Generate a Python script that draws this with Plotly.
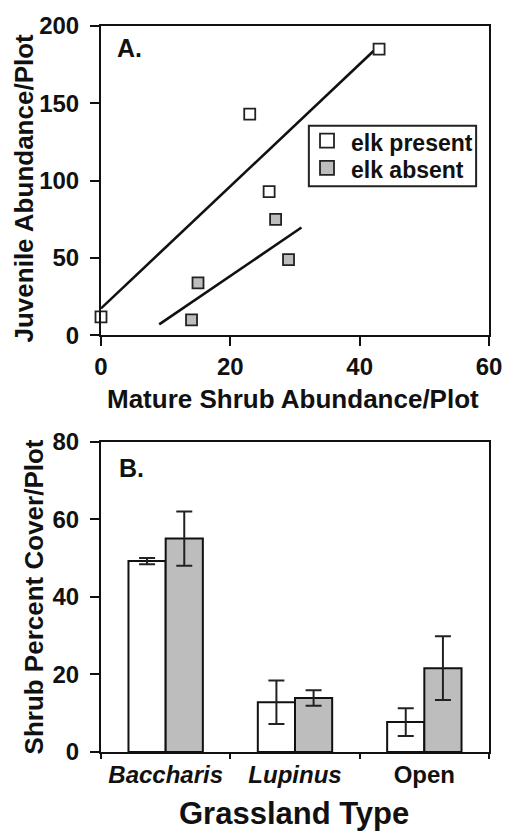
import numpy as np
import plotly.graph_objects as go

# ---- Panel A: juvenile vs mature shrub abundance per plot ----
present_mature = [0, 23, 26, 43]
present_juvenile = [12, 143, 93, 185]
absent_mature = [14, 15, 27, 29]
absent_juvenile = [10, 34, 75, 49]
# x-extent of each least-squares line
present_fit_x = [0, 43]
absent_fit_x = [9, 31]

# ---- Panel B: shrub percent cover by grassland type ----
grassland = ["Baccharis", "Lupinus", "Open"]
grassland_labels = ["<i>Baccharis</i>", "<i>Lupinus</i>", "Open"]
cover_present = [49.2, 12.8, 7.7]
cover_present_se = [0.8, 5.6, 3.6]
cover_absent = [55.0, 13.9, 21.6]
cover_absent_se = [7.0, 2.0, 8.2]

legend_names = ["elk present", "elk absent"]

FONT = "Liberation Sans, Arial, Helvetica, sans-serif"
GRAY = "#bdbdbd"
INK = "#111111"
FILLS = ["white", GRAY]


def fit_line(x, y, xs):
    slope, intercept = np.polyfit(x, y, 1)
    xs = np.asarray(xs, dtype=float)
    return xs, slope * xs + intercept


def bold(size):
    return dict(family=FONT, size=size, color=INK, weight="bold")


fig = go.Figure()

# regression lines
for xd, yd, xr in [(present_mature, present_juvenile, present_fit_x),
                   (absent_mature, absent_juvenile, absent_fit_x)]:
    lx, ly = fit_line(xd, yd, xr)
    fig.add_trace(go.Scatter(x=lx, y=ly, mode="lines", showlegend=False,
                             line=dict(color=INK, width=2.6),
                             xaxis="x", yaxis="y", hoverinfo="skip"))

marker_line = dict(color="#222222", width=1.8)
for xs, ys, name, fill in [(present_mature, present_juvenile, legend_names[0], FILLS[0]),
                           (absent_mature, absent_juvenile, legend_names[1], FILLS[1])]:
    fig.add_trace(go.Scatter(x=xs, y=ys, mode="markers", name=name,
                             showlegend=False, cliponaxis=False,
                             marker=dict(symbol="square", size=11, color=fill,
                                         line=marker_line),
                             xaxis="x", yaxis="y"))

err_style = dict(type="data", visible=True, color="#222222", thickness=2, width=8)
for vals, se, fill in [(cover_present, cover_present_se, FILLS[0]),
                       (cover_absent, cover_absent_se, FILLS[1])]:
    fig.add_trace(go.Bar(x=grassland, y=vals, showlegend=False,
                         marker=dict(color=fill, line=dict(color=INK, width=2)),
                         error_y=dict(array=se, **err_style),
                         xaxis="x2", yaxis="y2"))

axis_common = dict(showline=True, mirror=True, linecolor=INK, linewidth=2,
                   ticks="outside", tickcolor=INK, tickwidth=2,
                   showgrid=False, zeroline=False, tickfont=bold(24))

# key box for panel A (positions in panel-A domain units)
shapes = [dict(type="rect", xref="x domain", yref="y domain",
               x0=0.5357, x1=0.9668, y0=0.482, y1=0.678,
               line=dict(color="#222222", width=2), fillcolor="white", layer="above")]
annotations = []
key_rows = [0.6295, 0.5417]
for name, fill, yk in zip(legend_names, FILLS, key_rows):
    shapes.append(dict(type="rect", xref="x domain", yref="y domain",
                       xsizemode="pixel", ysizemode="pixel",
                       xanchor=0.5825, yanchor=yk, x0=-7, x1=7, y0=-7, y1=7,
                       line=dict(color="#222222", width=1.8), fillcolor=fill,
                       layer="above"))
    annotations.append(dict(text=name, xref="x domain", yref="y domain",
                            x=0.640, y=yk - 0.008, xanchor="left", yanchor="middle",
                            showarrow=False, font=bold(23)))

# panel letters
annotations += [
    dict(text="A.", xref="x domain", yref="y domain", x=0.035, y=0.93,
         xanchor="left", yanchor="middle", showarrow=False, font=bold(25)),
    dict(text="B.", xref="x2 domain", yref="y2 domain", x=0.04, y=0.915,
         xanchor="left", yanchor="middle", showarrow=False, font=bold(25)),
]

# axis titles
annotations += [
    dict(text="Mature Shrub Abundance/Plot", xref="paper", yref="paper",
         x=0.4949, y=0.4863, xanchor="center", yanchor="middle",
         showarrow=False, font=bold(26)),
    dict(text="Juvenile Abundance/Plot", xref="paper", yref="paper",
         x=-0.199, y=0.7773, xanchor="center", yanchor="middle", textangle=-90,
         showarrow=False, font=bold(26)),
    dict(text="Grassland Type", xref="paper", yref="paper",
         x=0.497, y=-0.085, xanchor="center", yanchor="middle",
         showarrow=False, font=bold(31)),
    dict(text="Shrub Percent Cover/Plot", xref="paper", yref="paper",
         x=-0.1735, y=0.2138, xanchor="center", yanchor="middle", textangle=-90,
         showarrow=False, font=bold(26)),
]

fig.update_layout(
    width=514, height=832,
    margin=dict(l=101, r=21, t=20, b=80),
    paper_bgcolor="white", plot_bgcolor="white",
    showlegend=False,
    barmode="group", bargap=0.425, bargroupgap=0,
    xaxis=dict(domain=[0, 1], range=[0, 60], tickvals=[0, 20, 40, 60], ticklen=9,
               ticklabelstandoff=0, anchor="y", **axis_common),
    yaxis=dict(domain=[0.5738, 1.0], range=[0, 200], tickvals=[0, 50, 100, 150, 200],
               ticklen=9, ticklabelstandoff=6, anchor="x", **axis_common),
    xaxis2=dict(domain=[0, 1], range=[-0.5, 2.5], type="category",
                tickson="boundaries", ticklen=5,
                tickvals=grassland, ticktext=grassland_labels,
                anchor="y2", **axis_common),
    yaxis2=dict(domain=[0, 0.4276], range=[0, 80], tickvals=[0, 20, 40, 60, 80],
                ticklen=9, ticklabelstandoff=6, anchor="x2", **axis_common),
    shapes=shapes,
    annotations=annotations,
)

fig.write_html("out.html")
